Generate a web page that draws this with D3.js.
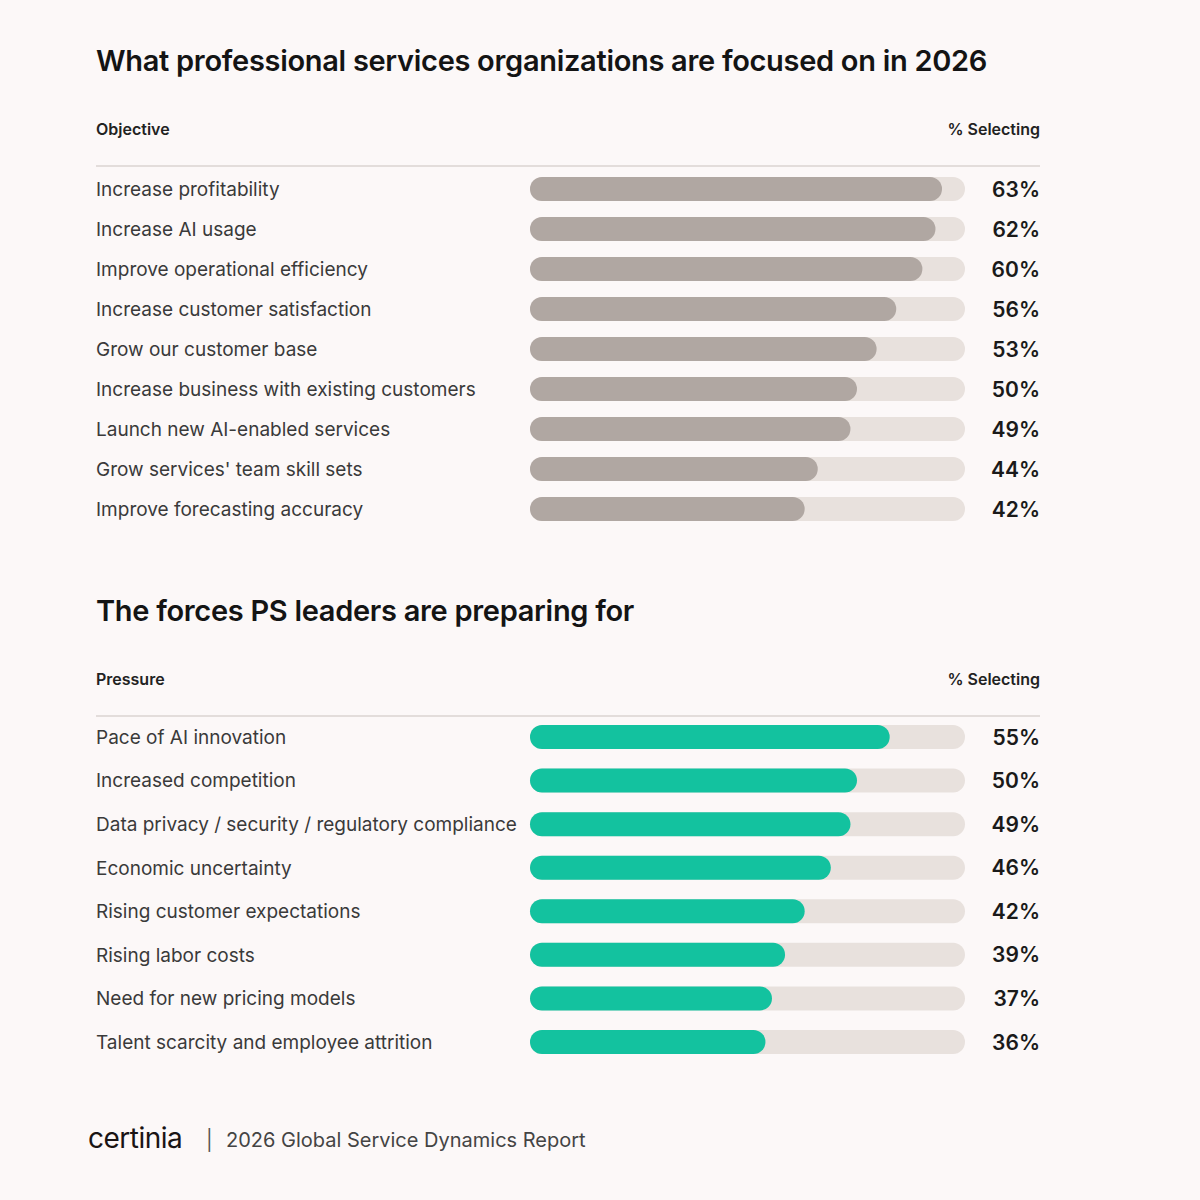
<!DOCTYPE html>
<html><head><meta charset="utf-8">
<script src="https://cdn.jsdelivr.net/npm/d3@7"></script>
<style>
body{margin:0;background:#fcf8f8;}
text{font-family:Inter,"Open Sans",sans-serif;}
</style></head>
<body><svg id="chart" width="1200" height="1200"></svg>
<script>
// ---- data ----
var objectives=["Increase profitability","Increase AI usage","Improve operational efficiency","Increase customer satisfaction","Grow our customer base","Increase business with existing customers","Launch new AI-enabled services","Grow services' team skill sets","Improve forecasting accuracy"]
var objectiveValues=[63,62,60,56,53,50,49,44,42]
var pressures=["Pace of AI innovation","Increased competition","Data privacy / security / regulatory compliance","Economic uncertainty","Rising customer expectations","Rising labor costs","Need for new pricing models","Talent scarcity and employee attrition"]
var pressureValues=[55,50,49,46,42,39,37,36]

var svg=d3.select("#chart")
svg.append("rect").attr("width",1200).attr("height",1200).attr("fill","#fcf8f8")

// bar value scale, track ends at 965
var xScale=d3.scaleLinear().domain([0,100]).range([530,1184])
var trackEnd=965

function drawSection(title,header,top,cats,vals,firstY,lastY,barColor)
{
  svg.append("text").attr("x",96).attr("y",top).attr("font-size","29px").attr("font-weight","600")
    .attr("fill","#141414").attr("letter-spacing","-0.3").text(title)
  svg.append("text").attr("x",96).attr("y",top+64).attr("font-size","16px").attr("font-weight","600")
    .attr("fill","#222").text(header)
  svg.append("text").attr("x",1040).attr("y",top+64).attr("text-anchor","end").attr("font-size","16px")
    .attr("font-weight","600").attr("fill","#222").text("% Selecting")
  svg.append("line").attr("x1",96).attr("x2",1040).attr("y1",top+95).attr("y2",top+95)
    .attr("stroke","#e3dddb").attr("stroke-width",2)

  var yScale=d3.scalePoint().domain(cats).range([firstY,lastY])
  var g=svg.append("g")
  var rows=g.selectAll("g.row").data(cats).enter().append("g").attr("class","row")
    .attr("transform",function(d){return "translate(0,"+yScale(d)+")"})
  rows.append("text").attr("x",96).attr("dy","0.36em").attr("font-size","19px")
    .attr("fill","#3a3a3a").text(function(d){return d})
  rows.append("rect").attr("x",530).attr("y",-12).attr("height",24).attr("rx",12)
    .attr("width",trackEnd-530).attr("fill","#e8e1dd")
  rows.append("rect").attr("x",530).attr("y",-12).attr("height",24).attr("rx",12)
    .attr("width",function(d,i){return xScale(vals[i])-530}).attr("fill",barColor)
  rows.append("text").attr("x",1040).attr("dy","0.36em").attr("text-anchor","end")
    .attr("font-size","21px").attr("font-weight","600").attr("fill","#1a1a1a")
    .text(function(d,i){return vals[i]+"%"})
}

drawSection("What professional services organizations are focused on in 2026","Objective",71,objectives,objectiveValues,189,509,"#b0a7a2")
drawSection("The forces PS leaders are preparing for","Pressure",621,pressures,pressureValues,737,1042,"#13c29f")

// footer
svg.append("text").attr("x",88).attr("y",1148).attr("font-family","'DejaVu Serif',serif").attr("font-size","28px")
  .attr("fill","#1a1414").attr("letter-spacing","-0.5").text("certinia")
svg.append("text").attr("x",206).attr("y",1147).attr("font-size","20px").attr("fill","#555").text("|")
svg.append("text").attr("x",226).attr("y",1147).attr("font-size","20px").attr("fill","#444").text("2026 Global Service Dynamics Report")
</script></body></html>
